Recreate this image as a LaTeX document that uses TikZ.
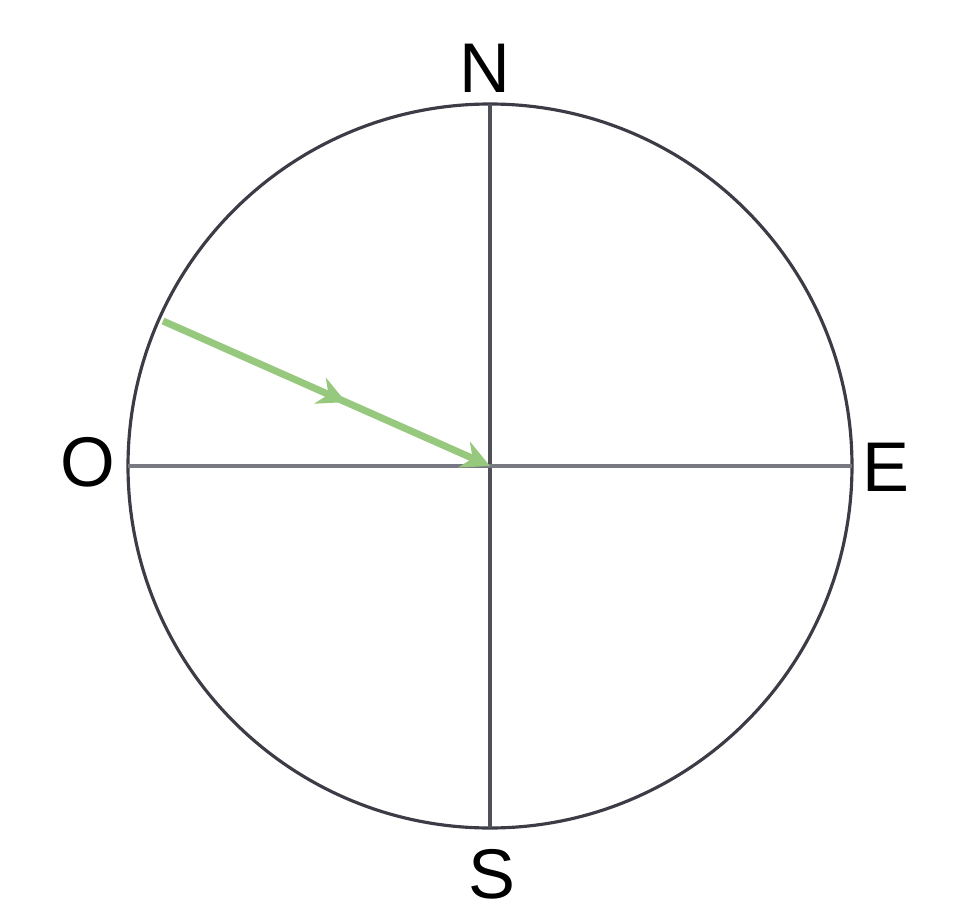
\documentclass[tikz,border=0pt]{standalone}
\usepackage{fontspec}
\setmainfont{Liberation Sans}
\usetikzlibrary{arrows.meta,decorations.markings}
\definecolor{arrowgreen}{RGB}{150,200,125}
\definecolor{rimgray}{RGB}{60,60,70}
\definecolor{axisgray}{RGB}{120,120,130}
\tikzset{
  lbl/.style={font=\fontsize{20}{20}\selectfont, inner sep=0pt},
  rim/.style={draw=rimgray, line width=0.9pt},
  axisline/.style={line width=0.9pt},
  flow/.style={draw=arrowgreen, line width=2pt,
    -{Stealth[length=8pt,width=8pt]},
    postaction={decorate},
    decoration={markings, mark=at position 0.56 with {\arrow{Stealth[length=8pt,width=8pt]}}}}
}
\begin{document}
\begin{tikzpicture}[x=0.01cm,y=-0.01cm]
\useasboundingbox (0,0) rectangle (954,921);
\coordinate (c) at (490,466);
\draw[rim] (c) circle[radius=362];
\coordinate (n) at (490,104);
\coordinate (s) at (490,828);
\coordinate (w) at (128,466);
\coordinate (e) at (852,466);
\draw[axisline, draw=rimgray!90] (n) -- (s);
\draw[axisline, draw=axisgray] (w) -- (e);
\coordinate (a) at (163,321);
\draw[flow] (a) -- (c);
\node[lbl] (N) at (485,68) {N};
\node[lbl] (S) at (492,874) {S};
\node[lbl] (O) at (88,462) {O};
\node[lbl] (E) at (886,467) {E};
\end{tikzpicture}
\end{document}
